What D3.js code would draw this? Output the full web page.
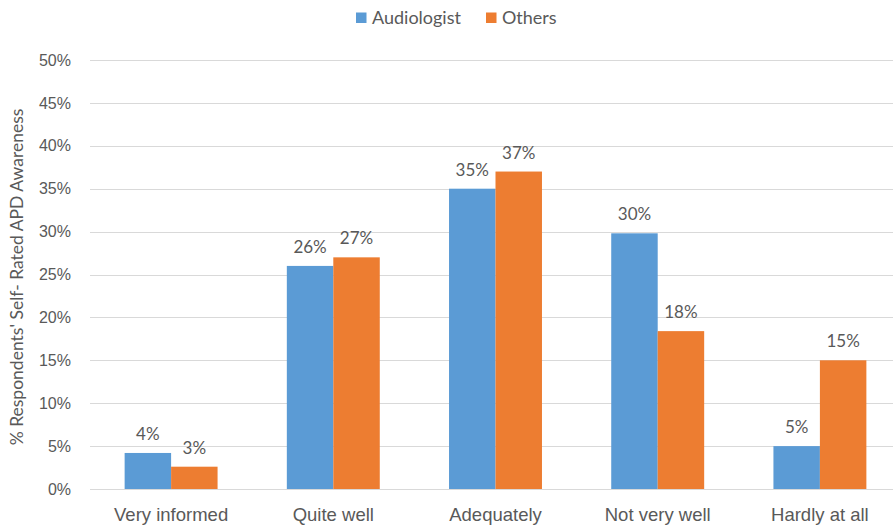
<!DOCTYPE html>
<html>
<head>
<meta charset="utf-8">
<script src="https://cdn.jsdelivr.net/npm/d3@7"></script>
<style>
  html, body { margin: 0; padding: 0; background: #fff; }
  svg { display: block; font-family: Lato, "Open Sans", sans-serif; }
</style>
</head>
<body>
<svg id="chart" width="893" height="528"></svg>
<script>
// Self-rated APD awareness by respondent group
const categories = ["Very informed", "Quite well", "Adequately", "Not very well", "Hardly at all"];
const seriesNames = ["Audiologist", "Others"];
const audiologist = [0.042, 0.26, 0.35, 0.298, 0.05];
const others = [0.026, 0.27, 0.37, 0.184, 0.15];
const yTicks = [0, 0.05, 0.10, 0.15, 0.20, 0.25, 0.30, 0.35, 0.40, 0.45, 0.50];
const colors = ["#5B9BD5", "#ED7D31"];

const svg = d3.select("#chart");
const margin = { left: 90, right: -8, top: 60, bottom: 39 };
const W = 893, H = 528;

const x0 = d3.scaleBand()
  .domain(categories)
  .range([margin.left, W - margin.right])
  .paddingInner(0.427)
  .paddingOuter(0.2135);
const x1 = d3.scaleBand()
  .domain(seriesNames)
  .range([0, x0.bandwidth()]);
const y = d3.scaleLinear()
  .domain([0, 0.5])
  .range([H - margin.bottom, margin.top]);

const textColor = "#595959";
const pct = d3.format(".0%");

// gridlines + y tick labels
const yAxis = d3.axisLeft(y).tickValues(yTicks).tickFormat(pct).tickSize(0).tickPadding(19);
const gy = svg.append("g").attr("transform", `translate(${margin.left},0)`).call(yAxis);
gy.select(".domain").remove();
gy.selectAll("text").attr("fill", textColor).style("font-size", "16px");
svg.append("g").selectAll("line").data(yTicks).join("line")
  .attr("x1", margin.left).attr("x2", W)
  .attr("y1", d => Math.round(y(d)) + 0.5).attr("y2", d => Math.round(y(d)) + 0.5)
  .attr("stroke", "#D9D9D9").attr("stroke-width", 1);

// x category labels
const xAxis = d3.axisBottom(x0).tickSize(0).tickPadding(19);
const gx = svg.append("g").attr("transform", `translate(0,${y(0)})`).call(xAxis);
gx.select(".domain").remove();
gx.selectAll("text").attr("fill", textColor).style("font-size", "18.5px");

// bars and value labels
const rows = categories.map((c, i) => ({ cat: c, vals: [audiologist[i], others[i]] }));
const groups = svg.append("g").selectAll("g").data(rows).join("g")
  .attr("transform", d => `translate(${x0(d.cat)},0)`);
groups.selectAll("rect").data(d => d.vals.map((v, j) => ({ s: seriesNames[j], v, j })))
  .join("rect")
  .attr("x", d => x1(d.s))
  .attr("width", x1.bandwidth())
  .attr("y", d => y(d.v))
  .attr("height", d => y(0) - y(d.v))
  .attr("fill", d => colors[d.j]);
groups.selectAll("text").data(d => d.vals.map((v, j) => ({ s: seriesNames[j], v, j })))
  .join("text")
  .attr("x", d => x1(d.s) + x1.bandwidth() / 2)
  .attr("y", d => y(d.v) - 13)
  .attr("text-anchor", "middle")
  .attr("fill", textColor)
  .style("font-size", "17px")
  .text(d => pct(d.v));

// y axis title
svg.append("text")
  .attr("transform", "translate(23,277) rotate(-90)")
  .attr("text-anchor", "middle")
  .attr("fill", textColor)
  .style("font-size", "17.5px")
  .text("% Respondents' Self- Rated APD Awareness");

// legend
const legend = svg.append("g");
const items = [{ name: seriesNames[0], x: 356 }, { name: seriesNames[1], x: 486 }];
items.forEach((it, j) => {
  legend.append("rect").attr("x", it.x).attr("y", 12.5).attr("width", 10.5).attr("height", 10.5).attr("fill", colors[j]);
  legend.append("text").attr("x", it.x + 16).attr("y", 24)
    .attr("fill", textColor).style("font-size", "18px").text(it.name);
});
</script>
</body>
</html>
